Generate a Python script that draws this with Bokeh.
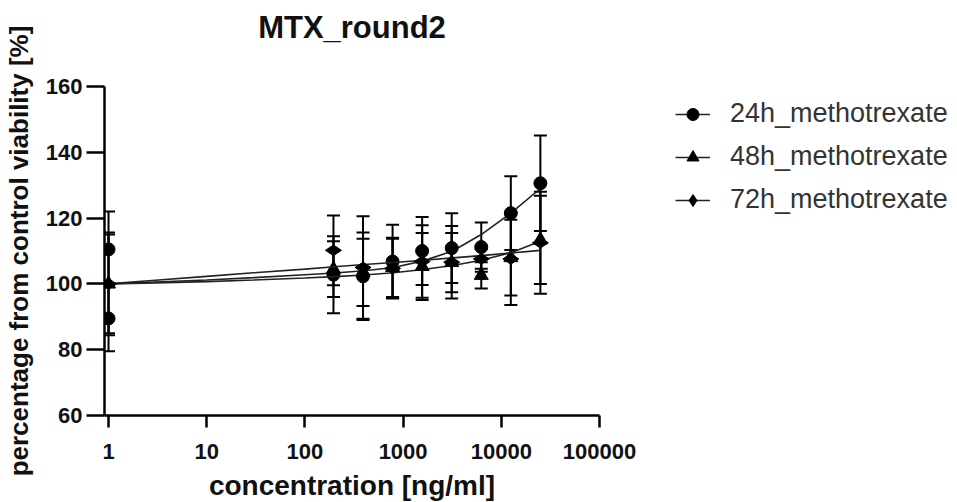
import math
from bokeh.plotting import figure
from bokeh.models import (Whisker, TeeHead, ColumnDataSource, Legend, LegendItem,
                          FixedTicker, PrintfTickFormatter, LinearAxis)
from bokeh.embed import file_html
from bokeh.resources import INLINE

# ---- data ----
conc_24 = [1, 1, 195.3125, 390.625, 781.25, 1562.5, 3125, 6250, 12500, 25000]
mean_24 = [110.5, 89.5, 102.8, 102.3, 106.8, 110.0, 110.9, 111.2, 121.5, 130.6]
err_24 = [11.5, 10.0, 11.7, 13.3, 11.2, 10.3, 10.6, 7.5, 11.2, 14.5]

conc_48 = [1, 195.3125, 390.625, 781.25, 1562.5, 3125, 6250, 12500, 25000]
mean_48 = [100.0, 104.5, 103.5, 105.0, 105.3, 106.5, 102.6, 108.0, 113.4]
err_48 = [15.0, 8.5, 10.2, 9.0, 10.2, 9.0, 4.0, 11.5, 13.4]

conc_72 = [1, 195.3125, 390.625, 781.25, 1562.5, 3125, 6250, 12500, 25000]
mean_72 = [100.0, 110.2, 105.0, 104.7, 106.8, 106.6, 107.6, 107.6, 112.5]
err_72 = [15.6, 10.6, 15.6, 9.0, 11.0, 11.0, 3.0, 14.0, 15.5]

fit_conc = [1, 3, 10, 30, 100, 200, 400, 800, 1600, 3200, 6250, 12500, 25000]
fit_24 = [100.0, 100.6, 101.2, 101.9, 102.8, 103.3, 104.0, 105.0, 107.0, 110.0, 115.0, 121.5, 129.0]
fit_48 = [100.0, 100.3, 100.7, 101.2, 101.8, 102.2, 102.7, 103.4, 104.4, 105.6, 107.2, 109.5, 113.0]
fit_72 = [100.0, 101.1, 102.3, 103.4, 104.5, 105.2, 105.9, 106.5, 107.2, 107.9, 108.6, 109.4, 110.2]

title_text = "MTX_round2"
labels = ["24h_methotrexate", "48h_methotrexate", "72h_methotrexate"]
markers = ["circle", "triangle", "diamond"]
x_ticks = [1, 10, 100, 1000, 10000, 100000]
y_ticks = [60, 80, 100, 120, 140, 160]

FONT = "Liberation Sans"

p = figure(x_axis_type="log", x_range=(0.91, 100000), y_range=(60, 160),
           frame_width=495, frame_height=329,
           min_border_left=101, min_border_top=86, min_border_right=335, min_border_bottom=60,
           output_backend="svg", toolbar_location=None)
p.outline_line_color = None
p.grid.grid_line_color = None
p.background_fill_color = "white"

xax = p.below[0]
yax = p.left[0]
for ax in (xax, yax):
    ax.axis_line_width = 2.5
    ax.axis_line_color = "black"
    ax.major_tick_line_width = 2.5
    ax.major_tick_line_color = "black"
    ax.major_tick_in = 0
    ax.minor_tick_line_color = None
    ax.major_label_text_font = FONT
    ax.major_label_text_font_style = "bold"
    ax.major_label_text_font_size = "22px"
    ax.major_label_text_color = "#111111"
    ax.axis_label_text_font = FONT
    ax.axis_label_text_font_style = "bold"
    ax.axis_label_text_color = "#111111"

xax.major_tick_out = 12
yax.major_tick_out = 18
xax.axis_label_text_font_size = "28px"
yax.axis_label_text_font_size = "26px"
xax.ticker = FixedTicker(ticks=x_ticks)
xax.formatter = PrintfTickFormatter(format="%d")
yax.ticker = FixedTicker(ticks=y_ticks)
xax.axis_label = "concentration [ng/ml]"
yax.axis_label = "percentage from control viability [%]"
xax.major_label_standoff = 16
yax.major_label_standoff = 4
xax.axis_label_standoff = 8
yax.axis_label_standoff = 9

# title drawn as the label of an empty axis above the frame
tax = LinearAxis(axis_label=title_text, ticker=FixedTicker(ticks=[]),
                 axis_line_color=None, major_tick_line_color=None,
                 minor_tick_line_color=None, major_tick_out=0, major_tick_in=0,
                 minor_tick_out=0, minor_tick_in=0,
                 major_label_text_font_size="0px",
                 axis_label_standoff=42, axis_label_text_font=FONT,
                 axis_label_text_font_style="bold", axis_label_text_font_size="31px",
                 axis_label_text_color="#111111")
p.add_layout(tax, "above")

series = [(conc_24, mean_24, err_24, fit_24),
          (conc_48, mean_48, err_48, fit_48),
          (conc_72, mean_72, err_72, fit_72)]

items = []
for (cx, my, ey, fy), lab, mk in zip(series, labels, markers):
    src = ColumnDataSource(dict(x=cx, y=my,
                                lo=[m - e for m, e in zip(my, ey)],
                                hi=[m + e for m, e in zip(my, ey)]))
    w = Whisker(base="x", upper="hi", lower="lo", source=src,
                line_color="black", line_width=2,
                upper_head=TeeHead(size=13, line_width=2, line_color="black"),
                lower_head=TeeHead(size=13, line_width=2, line_color="black"))
    p.add_layout(w)
    fl = p.line(fit_conc, fy, line_color="#222222", line_width=1.6)
    if mk == "diamond":
        sc = p.scatter("x", "y", source=src, marker="diamond", size=16, angle=math.pi / 2,
                       fill_color="black", line_color="black")
    else:
        sz = 13 if mk == "circle" else 14
        sc = p.scatter("x", "y", source=src, marker=mk, size=sz,
                       fill_color="black", line_color="black")
    items.append(LegendItem(label=lab, renderers=[fl, sc]))

legend = Legend(items=items, location=(76, 200),
                glyph_width=35, glyph_height=30, label_height=30, spacing=12,
                label_standoff=20, padding=0, margin=0,
                label_text_font=FONT, label_text_font_size="27px",
                label_text_color="#333333",
                background_fill_alpha=0, border_line_color=None)
p.add_layout(legend, "right")

open("out.html", "w").write(file_html(p, INLINE))
